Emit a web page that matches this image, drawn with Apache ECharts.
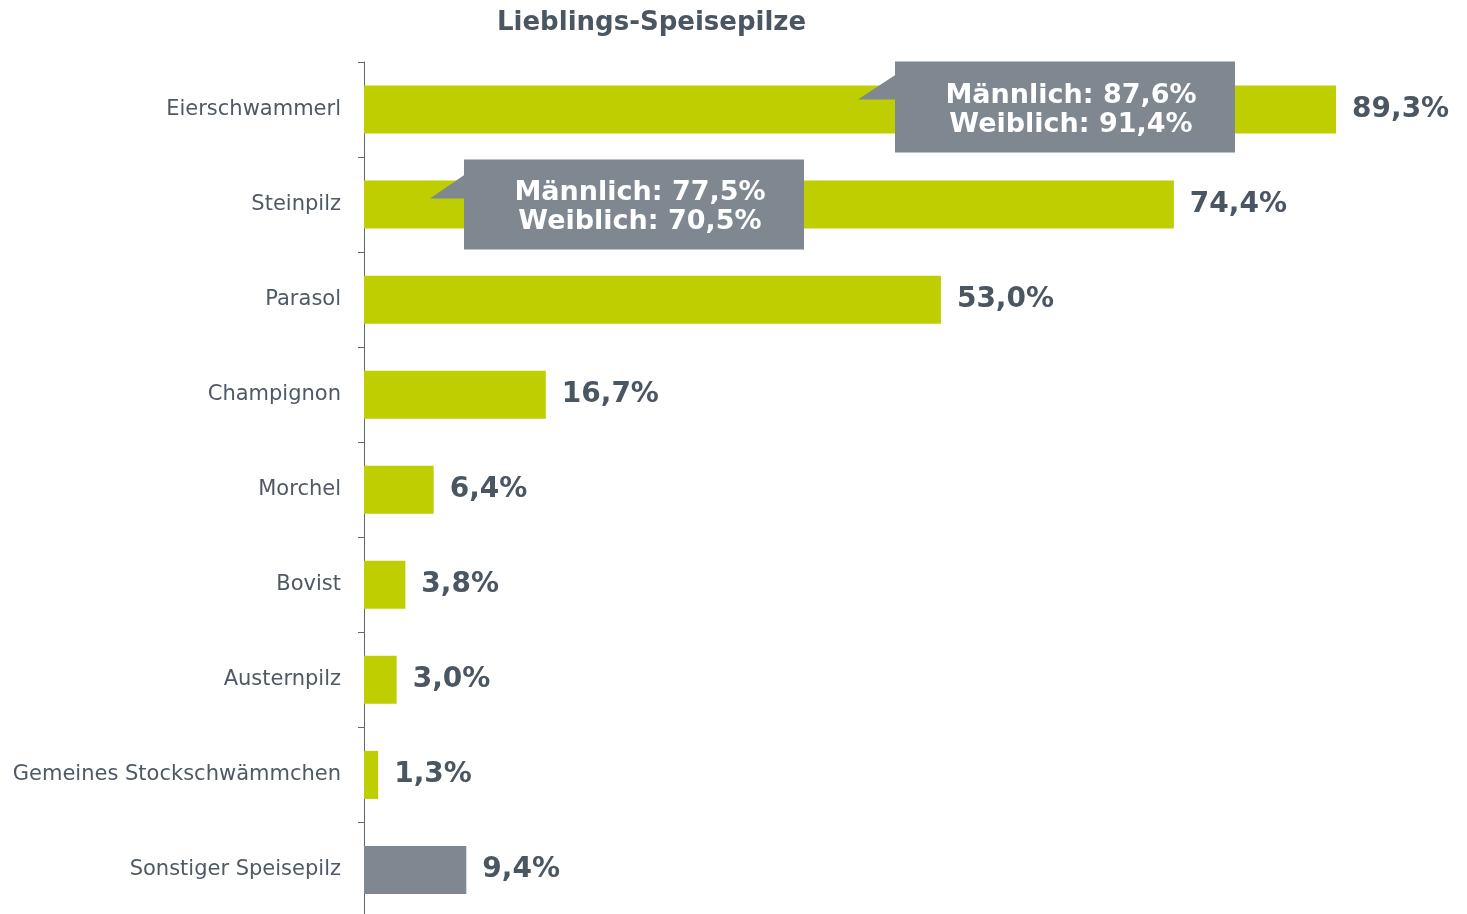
<!DOCTYPE html>
<html>
<head>
<meta charset="utf-8">
<title>Lieblings-Speisepilze</title>
<script src="https://cdn.jsdelivr.net/npm/echarts@6/dist/echarts.min.js"></script>
<style>
    html, body { margin: 0; padding: 0; background: #fff; }
    #chart { width: 1467px; height: 914px; }
</style>
</head>
<body>
<div id="chart"></div>
<script>
// Daten
const categories = ['Eierschwammerl', 'Steinpilz', 'Parasol', 'Champignon', 'Morchel', 'Bovist', 'Austernpilz', 'Gemeines Stockschwämmchen', 'Sonstiger Speisepilz'];
const values = [89.3, 74.4, 53.0, 16.7, 6.4, 3.8, 3.0, 1.3, 9.4];
const maleValues = [87.6, 77.5];
const femaleValues = [91.4, 70.5];

const green = '#bfce00';
const grey = '#7f8790';
const textDark = '#4b5663';
const fontFamily = '"DejaVu Sans", Verdana, sans-serif';

function fmt(v) {
    return v.toFixed(1).replace('.', ',') + '%';
}

const myChart = echarts.init(document.getElementById('chart'));

const option = {
    animation: false,
    textStyle: { fontFamily: fontFamily },
    title: {
        text: 'Lieblings-Speisepilze',
        left: 492,
        top: 5,
        textStyle: {
            color: textDark,
            fontSize: 26,
            fontWeight: 'bold',
            fontFamily: fontFamily
        }
    },
    grid: {
        left: 364,
        top: 62,
        right: 14.5,
        bottom: -3.5,
        outerBoundsMode: 'none'
    },
    xAxis: {
        type: 'value',
        min: 0,
        max: 100,
        show: false
    },
    yAxis: {
        type: 'category',
        inverse: true,
        data: categories,
        axisLine: {
            show: true,
            lineStyle: { color: '#5f6873', width: 1 }
        },
        axisTick: {
            show: true,
            length: 6,
            lineStyle: { color: '#5f6873' }
        },
        axisLabel: {
            color: '#4f5965',
            fontSize: 21,
            margin: 23,
            padding: [6, 0, 0, 0],
            fontFamily: fontFamily
        }
    },
    series: [
        {
            type: 'bar',
            data: values,
            barWidth: 48,
            itemStyle: {
                color: (p) => p.dataIndex === categories.length - 1 ? grey : green
            },
            label: {
                show: true,
                position: 'right',
                distance: 16,
                color: textDark,
                fontSize: 28,
                fontWeight: 'bold',
                fontFamily: fontFamily,
                padding: [6, 0, 0, 0],
                formatter: (p) => fmt(p.value)
            }
        }
    ]
};

myChart.setOption(option, true);

// Sprechblasen mit Aufteilung nach Geschlecht
function buildCallouts() {
    const boxes = [
        { cat: 0, left: 895, top: -48, w: 340, h: 91, tipX: 858, tipY: -10, edgeTop: -35, edgeBottom: -10 },
        { cat: 1, left: 464, top: -45, w: 340, h: 90, tipX: 430, tipY: -6, edgeTop: -30, edgeBottom: -6 }
    ];
    const elements = [];
    boxes.forEach((b, i) => {
        const cy = myChart.convertToPixel({ gridIndex: 0 }, [0, categories[b.cat]])[1];
        elements.push({
            type: 'polygon',
            shape: {
                points: [
                    [b.tipX, cy + b.tipY],
                    [b.left + 1, cy + b.edgeTop],
                    [b.left + 1, cy + b.edgeBottom]
                ]
            },
            style: { fill: grey },
            z: 10
        });
        elements.push({
            type: 'rect',
            shape: { x: b.left, y: cy + b.top, width: b.w, height: b.h },
            style: { fill: grey },
            z: 10
        });
        elements.push({
            type: 'text',
            x: b.left + b.w / 2 + 6,
            y: cy + b.top + b.h / 2 + 3,
            style: {
                text: 'Männlich: ' + fmt(maleValues[i]) + '\nWeiblich: ' + fmt(femaleValues[i]),
                fill: '#fff',
                font: 'bold 27px ' + fontFamily,
                lineHeight: 29,
                align: 'center',
                verticalAlign: 'middle'
            },
            z: 11
        });
    });
    myChart.setOption({ graphic: { elements: elements } });
}

buildCallouts();

window.addEventListener('resize', () => {
    myChart.resize();
    buildCallouts();
});
</script>
</body>
</html>
